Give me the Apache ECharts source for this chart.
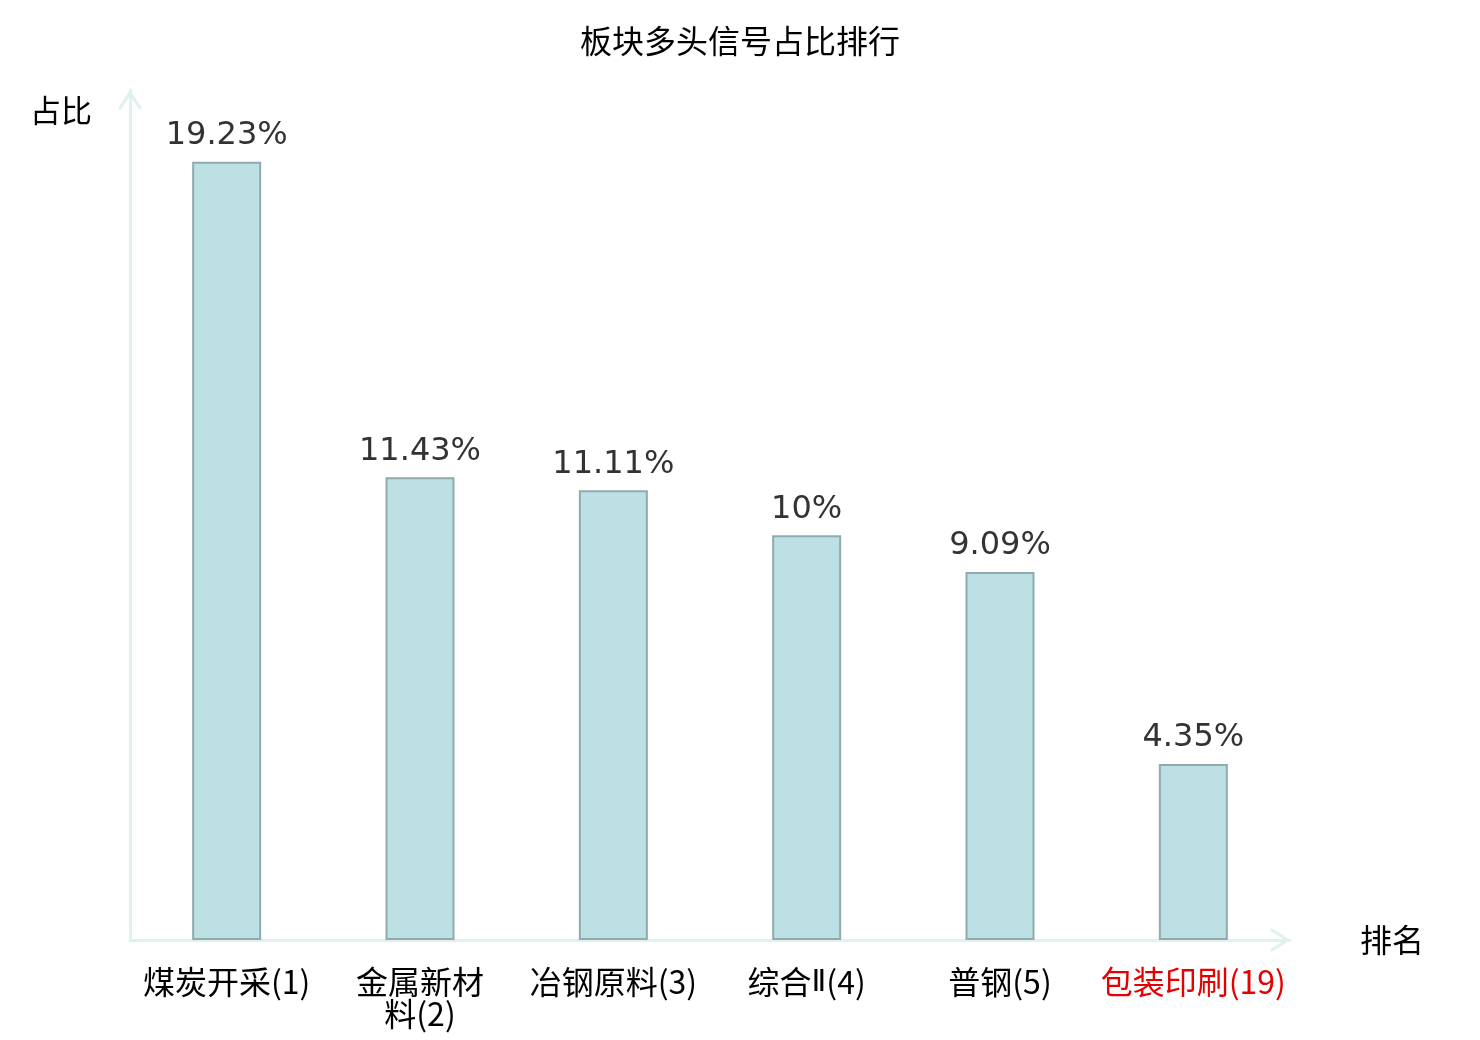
<!DOCTYPE html>
<html>
<head>
<meta charset="utf-8">
<title>板块多头信号占比排行</title>
<script src="https://cdn.jsdelivr.net/npm/echarts@6/dist/echarts.min.js"></script>
<style>
html, body { margin: 0; padding: 0; background: #fff; }
#chart { width: 1480px; height: 1040px; }
</style>
</head>
<body>
<div id="chart"></div>
<script>
// 板块名称、排名及多头信号占比
var sectors = ['煤炭开采', '金属新材料', '冶钢原料', '综合Ⅱ', '普钢', '包装印刷'];
var ranks = [1, 2, 3, 4, 5, 19];
var ratios = [19.23, 11.43, 11.11, 10, 9.09, 4.35];
var highlightIndex = 5; // 当前板块，标红

var categories = sectors.map(function(s, i){ return s + '(' + ranks[i] + ')'; });

var cjk = '"Noto Sans CJK SC", "DejaVu Sans", sans-serif';
var arrow = 'path://M0 18 L12 0 L24 18 L21.5 20 L12 5.5 L2.5 20 Z';

// 名称超过4个字就换行，罗马数字单独用窄字体
function labelText(value){
	var m = value.match(/^(.*)(\(\d+\))$/);
	var name = m ? m[1] : value, rank = m ? m[2] : '';
	if(name.length > 4){
		name = name.slice(0, 4) + '\n' + name.slice(4);
	}
	return (name + rank).replace(/Ⅱ/g, '{r|Ⅱ}');
}

function drawChart(){
	var myChart = echarts.init(document.getElementById('chart'));
	var option = {
		animation: false,
		title: {
			text: '板块多头信号占比排行',
			left: 'center',
			top: 20,
			textStyle: { fontFamily: cjk, fontSize: 32, fontWeight: 'normal', color: '#000' }
		},
		grid: { left: 130, right: 190, top: 90, bottom: 100 },
		xAxis: {
			type: 'category',
			data: categories,
			name: '排名',
			nameGap: 70,
			nameTextStyle: { fontFamily: cjk, fontSize: 32, color: '#000' },
			axisLine: {
				lineStyle: { color: '#dff2ef', width: 3 },
				symbol: ['none', arrow],
				symbolSize: [24, 20],
				symbolOffset: [0, -10]
			},
			axisTick: { show: false },
			axisLabel: {
				interval: 0,
				margin: 26,
				lineHeight: 32,
				fontFamily: cjk,
				fontSize: 32,
				formatter: labelText,
				color: function(value, index){
					return index === highlightIndex ? '#e60000' : '#000';
				},
				rich: {
					r: { fontFamily: '"Noto Sans", "DejaVu Sans", sans-serif', fontSize: 30, lineHeight: 32 }
				}
			}
		},
		yAxis: {
			type: 'value',
			min: 0,
			max: 21,
			name: '占比',
			nameGap: -20,
			nameTextStyle: { fontFamily: cjk, fontSize: 31, color: '#000', align: 'right', verticalAlign: 'middle', padding: [0, 38, 0, 0] },
			axisLine: {
				show: true,
				lineStyle: { color: '#dff2ef', width: 3 },
				symbol: ['none', arrow],
				symbolSize: [24, 20],
				symbolOffset: [0, -10]
			},
			axisTick: { show: false },
			axisLabel: { show: false },
			splitLine: { show: false }
		},
		series: [
			{
				name: '占比',
				type: 'bar',
				data: ratios,
				barWidth: 69,
				itemStyle: { color: '#bce0e3', borderColor: '#8fabab', borderWidth: 2 },
				label: {
					show: true,
					position: 'top',
					distance: 10,
					formatter: '{c}%',
					fontFamily: '"DejaVu Sans", sans-serif',
					fontSize: 32,
					color: '#333'
				}
			}
		]
	};
	myChart.setOption(option);
}
window.addEventListener('load', drawChart);
</script>
</body>
</html>
